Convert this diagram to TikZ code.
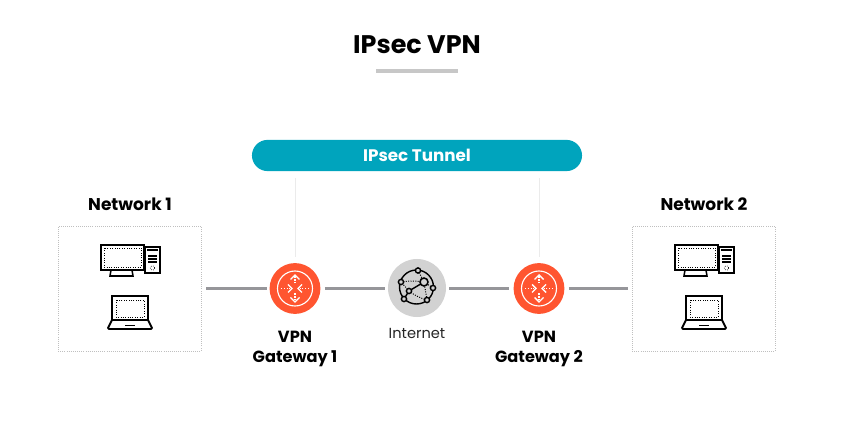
\documentclass[tikz,border=0pt]{standalone}
\usepackage{fontspec}
\setmainfont{Poppins}
\usetikzlibrary{calc, positioning, arrows.meta}

\definecolor{tunnelblue}{HTML}{00A4BD}
\definecolor{gworange}{HTML}{FF5530}
\definecolor{globegray}{HTML}{D2D2D2}
\definecolor{linegray}{HTML}{96969A}

\tikzset{
	desktop_icon/.pic={
		\draw[line width=1.4pt, fill=white] (-17,-19) rectangle (26,6);
		\draw[densely dotted, line width=0.7pt] (-14,-16) rectangle (23,3);
		\draw[line width=1.1pt] (-7,6) -- (-8,12) -- (15,12) -- (14,6);
		\draw[line width=1pt] (27,-17) rectangle (42,9);
		\draw[line width=1.2pt] (29,-14) -- (40,-14);
		\draw[line width=0.8pt] (30,-8) -- (39,-8) (30,-5) -- (39,-5) (30,-2) -- (39,-2);
		\draw[densely dotted, line width=0.5pt] (34.5,4) circle (2.2);
	},
	laptop_icon/.pic={
		\draw[line width=1.4pt] (-18,11) -- (-18,-13) -- (18,-13) -- (18,11);
		\draw[densely dotted, line width=0.7pt] (-14,-9) rectangle (14,8);
		\draw[line width=1.3pt, line join=round] (-18,11) -- (-22,19) -- (-21,20) -- (21,20) -- (22,19) -- (18,11) -- cycle;
		\draw[line width=1.2pt] (-5,16.5) -- (5,16.5);
	},
	gw_icon/.pic={
		\draw[white, line width=0.8pt] (0,0) circle (17.5);
		\foreach \ang in {90,270} {
			\draw[white, densely dotted, line width=1pt, rotate=\ang] (5,0) -- (12,0);
			\draw[white, line width=1pt, rotate=\ang] (9,-4.5) -- (13.5,0) -- (9,4.5);
		}
		\foreach \ang in {0,180} {
			\draw[white, densely dotted, line width=1pt, rotate=\ang] (14,0) -- (5,0);
			\draw[white, line width=1pt, rotate=\ang] (7,-4) -- (3,0) -- (7,4);
		}
	},
	globe_icon/.pic={
		\coordinate (ga) at (-16,-6);
		\coordinate (gb) at (1,-17.5);
		\coordinate (gc) at (7,-6);
		\coordinate (gd) at (16,0);
		\coordinate (ge) at (-8,3);
		\coordinate (gf) at (-13,11);
		\coordinate (gg) at (10,12);
		\draw[line width=1pt] (-0.5,-1) circle (17);
		\draw[line width=1pt] (ge) -- (gc) (ge) -- (gf);
		\draw[densely dotted, line width=0.7pt] (ga) to[bend left=8] (gc) (gb) -- (gc) (gc) -- (gd) (ge) -- (ga) (ge) to[bend right=10] (gg) (gc) -- (gg);
		\foreach \pt in {ga,gb,gd,ge,gf,gg} {
			\draw[line width=1pt, fill=globegray] (\pt) circle (2.6);
		}
		\draw[line width=1.1pt, fill=globegray] (gc) circle (4);
	}
}

\begin{document}
\begin{tikzpicture}[x=0.025cm, y=-0.025cm]
\tikzstyle{net_box}=[draw=black!25, densely dotted, line width=0.5pt, minimum width=3.57cm, minimum height=3.12cm]
\tikzstyle{gw_node}=[circle, fill=gworange, minimum size=1.27cm, inner sep=0pt]
\tikzstyle{globe_node}=[circle, fill=globegray, minimum size=1.45cm, inner sep=0pt]
\tikzstyle{tunnel_node}=[rounded corners=0.39cm, fill=tunnelblue, text=white, font=\bfseries\fontsize{11.9}{14}\selectfont, minimum width=8.25cm, minimum height=0.78cm, inner sep=0pt]
\tikzstyle{lbl_bold}=[font=\bfseries\fontsize{12.1}{13.6}\selectfont, align=center, inner sep=0pt]
\tikzstyle{lbl_gw}=[font=\bfseries\fontsize{11.5}{13.6}\selectfont, align=center, inner sep=0pt]
\tikzstyle{lbl_plain}=[font=\fontsize{10.4}{12}\selectfont, text=black!85, inner sep=0pt]
\tikzstyle{link_line}=[draw=linegray, line width=1.6pt]
\tikzstyle{drop_line}=[draw=black!8, line width=0.7pt]

\useasboundingbox (0,0) rectangle (844,432);

\node at (417,44.5) [font=\bfseries\fontsize{18.1}{20}\selectfont, inner sep=0pt] (Title) {IPsec VPN};
\node at (417,71.5) [fill=black!22, minimum width=2.05cm, minimum height=0.1cm, inner sep=0pt] (TitleBar) {};

\node at (417,155.5) [tunnel_node] (Tunnel) {IPsec Tunnel};

\node at (129.5,288.5) [net_box] (NetA) {};
\node at (703.5,288.5) [net_box] (NetB) {};
\node at (130,204.5) [lbl_bold] (NetALabel) {Network 1};
\node at (704,204.5) [lbl_bold] (NetBLabel) {Network 2};

\node at (295,288.5) [gw_node] (GwA) {};
\node at (539,288.5) [gw_node] (GwB) {};
\node at (417,288) [globe_node] (Inet) {};

\node at (295,349) [lbl_gw] (GwALabel) {VPN\\Gateway 1};
\node at (539,349) [lbl_gw] (GwBLabel) {VPN\\Gateway 2};
\node at (417,333) [lbl_plain] (InetLabel) {Internet};

\pic at (118,264) {desktop_icon};
\pic at (692,264) {desktop_icon};
\pic at (130,309) {laptop_icon};
\pic at (704,309) {laptop_icon};
\pic at (295,288.5) {gw_icon};
\pic at (539,288.5) {gw_icon};
\pic at (417,288) {globe_icon};

\draw[link_line, shorten <=3.5pt, shorten >=2pt] (NetA.east |- GwA) -- (GwA.west);
\draw[link_line, shorten <=3pt, shorten >=2pt] (GwA.east) -- (GwA -| Inet.west);
\draw[link_line, shorten <=2pt, shorten >=3pt] (GwB -| Inet.east) -- (GwB.west);
\draw[link_line, shorten <=3pt, shorten >=3pt] (GwB.east) -- (NetB.west |- GwB);

\draw[drop_line, shorten <=5pt, shorten >=4pt, xshift=-0.4pt] (GwA |- Tunnel.south) -- (GwA.north);
\draw[drop_line, shorten <=5pt, shorten >=4pt, xshift=-0.7pt] (GwB |- Tunnel.south) -- (GwB.north);

\end{tikzpicture}
\end{document}
